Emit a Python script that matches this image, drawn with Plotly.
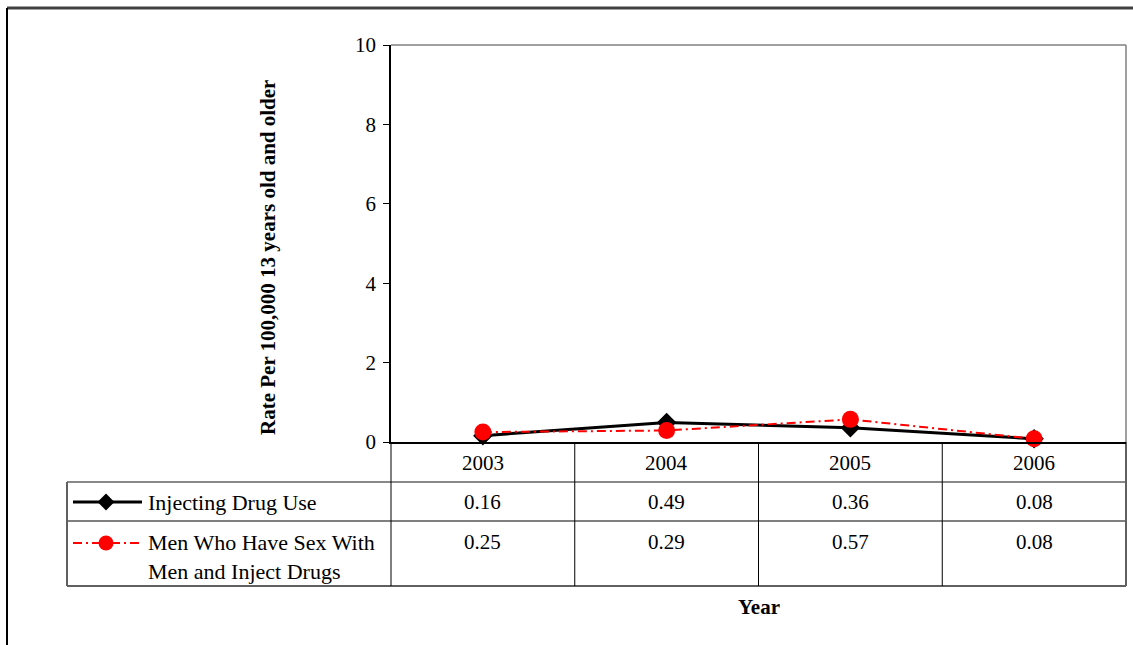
import plotly.graph_objects as go

# ---- data ----
years = ["2003", "2004", "2005", "2006"]
idu = [0.16, 0.49, 0.36, 0.08]
msm_idu = [0.25, 0.29, 0.57, 0.08]
series_names = ["Injecting Drug Use", "Men Who Have Sex With<br>Men and Inject Drugs"]
y_ticks = [0, 2, 4, 6, 8, 10]
y_title = "Rate Per 100,000 13 years old and older"
x_title = "Year"

W, H = 1133, 645
FONT = "Liberation Serif, Times New Roman, serif"
FS = 21
FS_LEG = 22

def px(x):
    return x / W

def py(y):
    return 1 - y / H

# layout geometry (pixels)
PL, PR, PT, PB = 391, 1126, 45, 442
TL = 67
ROW1, ROW2, TBOT = 482, 521, 586
ncol = len(years)
colw = (PR - PL) / ncol

fig = go.Figure()

styles = [
    dict(line=dict(color="black", width=3), marker=dict(symbol="diamond", size=15, color="black")),
    dict(line=dict(color="#ff0000", width=2, dash="9px,4px,2px,4px"), marker=dict(symbol="circle", size=17, color="#ff0000")),
]
for vals, name, st in zip([idu, msm_idu], series_names, styles):
    fig.add_trace(go.Scatter(
        x=years, y=vals, mode="lines+markers", name=name.replace("<br>", " "),
        line=st["line"], marker=st["marker"], cliponaxis=False, showlegend=False,
        xaxis="x", yaxis="y"))

# legend swatches in the data table (pixel overlay axis)
sw_y = [502, 543]
for yy, st in zip(sw_y, styles):
    fig.add_trace(go.Scatter(x=[73, 142], y=[yy, yy], mode="lines", line=st["line"],
                             showlegend=False, hoverinfo="skip", xaxis="x2", yaxis="y2"))
    fig.add_trace(go.Scatter(x=[106], y=[yy], mode="markers",
                             marker=dict(symbol=st["marker"]["symbol"], color=st["marker"]["color"],
                                         size=st["marker"]["size"] - 2),
                             showlegend=False, hoverinfo="skip", xaxis="x2", yaxis="y2"))

shapes = []
def line(x0, y0, x1, y1, color="black", width=1):
    shapes.append(dict(type="line", xref="paper", yref="paper", layer="below",
                       x0=px(x0), y0=py(y0), x1=px(x1), y1=py(y1),
                       line=dict(color=color, width=width)))

# outer chart border (top and left)
line(7, 8, W, 8, "#404040", 3)
line(7, 8, 7, H, "black", 2)
# plot area top/right border
line(PL, PT, PR, PT, "#808080", 1.5)
line(PR, PT, PR, PB, "#808080", 1.5)
# table grid
line(TL, ROW1, PR, ROW1, "#606060", 1.5)
line(TL, ROW2, PR, ROW2, "black", 1)
line(TL, TBOT, PR, TBOT, "#606060", 2)
line(TL, ROW1, TL, TBOT, "#606060", 2)
line(PR, PB, PR, TBOT, "#606060", 2)
for i in range(ncol):
    xx = PL + i * colw
    line(xx, PB, xx, TBOT, "black", 1)

annotations = []
def text(x, y, s, xanchor="center", yanchor="middle", size=FS, align="center", angle=0):
    annotations.append(dict(xref="paper", yref="paper", x=px(x), y=py(y), text=s,
                            showarrow=False, xanchor=xanchor, yanchor=yanchor, align=align,
                            textangle=angle,
                            font=dict(family=FONT, size=size, color="black")))

for i, yr in enumerate(years):
    cx = PL + (i + 0.5) * colw
    text(cx, 463, yr)
    text(cx, 502, f"{idu[i]:.2f}")
    text(cx, 542, f"{msm_idu[i]:.2f}")

text(146, 502, series_names[0], xanchor="left", size=FS_LEG)
text(146, 528, series_names[1], xanchor="left", yanchor="top", align="left", size=FS_LEG)
text(PL + 2 * colw, 607, f"<b>{x_title}</b>")
text(268, 258, f"<b>{y_title}</b>", angle=-90)

fig.update_layout(
    width=W, height=H, margin=dict(l=0, r=0, t=0, b=0, autoexpand=False),
    paper_bgcolor="white", plot_bgcolor="rgba(0,0,0,0)",
    xaxis=dict(domain=[px(PL), px(PR)], type="category", range=[-0.5, ncol - 0.5],
               showticklabels=False, showgrid=False, zeroline=False, automargin=False,
               showline=True, linecolor="black", linewidth=1.5, ticks=""),
    yaxis=dict(domain=[py(PB), py(PT)], range=[0, 10], tickvals=y_ticks, automargin=False,
               showgrid=False, zeroline=False, showline=True, linecolor="black", linewidth=1.5,
               ticks="outside", ticklen=6, tickcolor="black", ticklabelstandoff=3,
               tickfont=dict(family=FONT, size=FS, color="black")),
    xaxis2=dict(domain=[0, 1], range=[0, W], visible=False, anchor="y2", fixedrange=True, automargin=False),
    yaxis2=dict(domain=[0, 1], range=[H, 0], visible=False, anchor="x2", fixedrange=True, automargin=False),
    shapes=shapes, annotations=annotations,
)

fig.write_html("out.html", config={"displayModeBar": False},
               post_script="document.body.style.margin='0px';")
